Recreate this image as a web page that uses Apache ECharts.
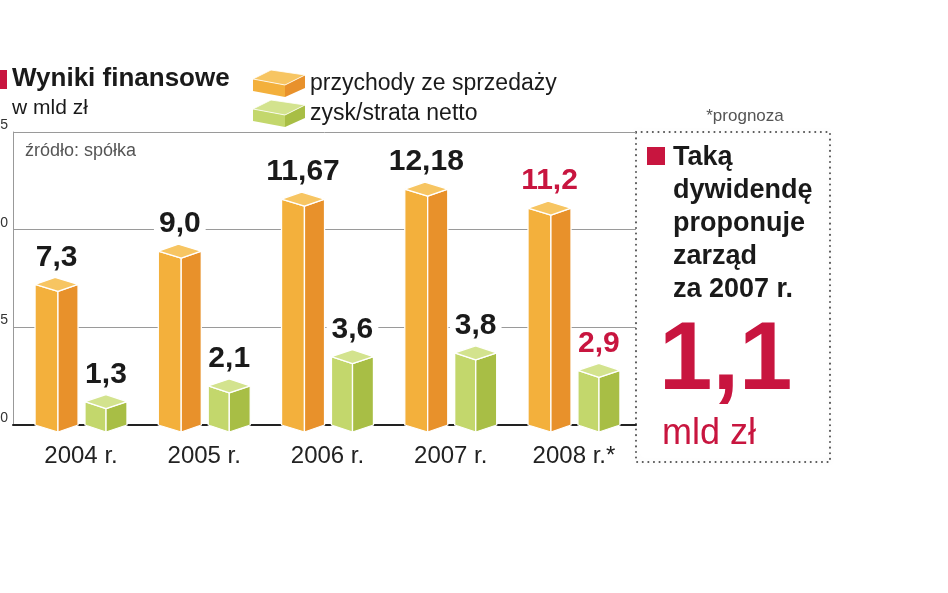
<!DOCTYPE html>
<html>
<head>
<meta charset="utf-8">
<script src="https://cdn.jsdelivr.net/npm/echarts@6/dist/echarts.min.js"></script>
<style>html,body{margin:0;padding:0;background:#fff}#c{width:948px;height:593px}</style>
</head>
<body>
<div id="c"></div>
<script>
// ---- data ----
var categories = ['2004 r.', '2005 r.', '2006 r.', '2007 r.', '2008 r.*'];
var revenue = [7.3, 9.0, 11.67, 12.18, 11.2];
var profit = [1.3, 2.1, 3.6, 3.8, 2.9];
var revenueLabels = ['7,3', '9,0', '11,67', '12,18', '11,2'];
var profitLabels = ['1,3', '2,1', '3,6', '3,8', '2,9'];
var forecastIndex = 4;
var yMin = 0, yMax = 15, yInterval = 5;
var seriesNames = ['przychody ze sprzedaży', 'zysk/strata netto'];

var RED = '#C8153F';
var FONT = '"Liberation Sans", Arial, sans-serif';
var orange = { left: '#F3B03C', right: '#E8912B', top: '#F7C562' };
var green = { left: '#C3D76C', right: '#A8BE45', top: '#D3E38E' };

function cubeIcon(col) {
  var svg = '<svg xmlns="http://www.w3.org/2000/svg" width="52" height="27" viewBox="0 0 52 27">' +
    '<polygon points="0,9 32,15 32,27 0,21" fill="' + col.left + '"/>' +
    '<polygon points="32,15 52,5 52,18 32,27" fill="' + col.right + '"/>' +
    '<polygon points="0,9 18,0 52,5 32,15" fill="' + col.top + '" stroke="#fff" stroke-width="0.8"/>' +
    '</svg>';
  return 'image://data:image/svg+xml;charset=utf-8,' + encodeURIComponent(svg);
}

function makeRender(fr, col, labels) {
  return function (params, api) {
    var idx = params.dataIndex;
    var val = api.value(1);
    var p = api.coord([api.value(0), val]);
    var b = api.coord([api.value(0), 0]);
    var bw = api.size([1, 0])[0];
    var cx = p[0];
    var x0 = cx + fr[0] * bw, xm = cx + fr[1] * bw, x1 = cx + fr[2] * bw;
    var xt = x0 + (x1 - xm);
    var d = 7;
    var yc = p[1] + 2;
    var base = b[1];
    var st = { stroke: '#fff', lineWidth: 1.3, lineJoin: 'round' };
    return {
      type: 'group',
      children: [
        { type: 'polygon', shape: { points: [[x0, yc], [xm, yc + d], [xm, base + d], [x0, base]] },
          style: Object.assign({ fill: col.left }, st) },
        { type: 'polygon', shape: { points: [[xm, yc + d], [x1, yc], [x1, base], [xm, base + d]] },
          style: Object.assign({ fill: col.right }, st) },
        { type: 'polygon', shape: { points: [[x0, yc], [xt, yc - d], [x1, yc], [xm, yc + d]] },
          style: Object.assign({ fill: col.top }, st) },
        { type: 'text', z2: 50,
          style: { text: labels[idx], x: (x0 + x1) / 2, y: yc - d - 20, align: 'center', verticalAlign: 'middle',
            fontSize: 30, fontWeight: 'bold', fontFamily: FONT,
            fill: idx === forecastIndex ? RED : '#1a1a1a', backgroundColor: '#fff', padding: [0, 5] } }
      ]
    };
  };
}

var chart = echarts.init(document.getElementById('c'), null, { renderer: 'canvas' });
chart.setOption({
  backgroundColor: '#fff',
  animation: false,
  title: {
    text: 'Wyniki finansowe', subtext: 'w mld zł', left: 12, top: 65, itemGap: 5, padding: 0,
    textStyle: { fontFamily: FONT, fontWeight: 'bold', fontSize: 26, color: '#1a1a1a', lineHeight: 28 },
    subtextStyle: { fontFamily: FONT, fontSize: 21, color: '#1a1a1a', lineHeight: 21 }
  },
  legend: {
    orient: 'vertical', left: 253, top: 70, itemWidth: 52, itemHeight: 27, itemGap: 3, padding: 0,
    selectedMode: false,
    textStyle: { fontFamily: FONT, fontSize: 23, color: '#1a1a1a' },
    data: [
      { name: seriesNames[0], icon: cubeIcon(orange) },
      { name: seriesNames[1], icon: cubeIcon(green) }
    ]
  },
  grid: [
    { left: 13, right: 312, top: 132, bottom: 168, outerBoundsMode: 'none', containLabel: false },
    { left: 19.4, right: 312.4, top: 132, bottom: 168, outerBoundsMode: 'none', containLabel: false }
  ],
  xAxis: [
    { gridIndex: 0, type: 'category', data: categories,
      axisLine: { show: true, lineStyle: { color: '#222', width: 2 } },
      axisTick: { show: false }, axisLabel: { show: false }, splitLine: { show: false } },
    { gridIndex: 1, type: 'category', data: categories,
      axisLine: { show: false }, axisTick: { show: false },
      axisLabel: { fontFamily: FONT, fontSize: 24, color: '#222', margin: 19 } }
  ],
  yAxis: [
    { gridIndex: 0, type: 'value', min: yMin, max: yMax, interval: yInterval,
      axisLine: { show: true, lineStyle: { color: '#999', width: 1 } }, axisTick: { show: false },
      splitLine: { show: true, lineStyle: { color: '#9a9a9a', width: 1 } },
      axisLabel: { fontFamily: FONT, fontSize: 14, color: '#333', margin: 5, align: 'right', verticalAlign: 'bottom', showMaxLabel: true } },
    { gridIndex: 1, type: 'value', min: yMin, max: yMax, interval: yInterval, show: false }
  ],
  series: [
    { name: seriesNames[0], type: 'custom', xAxisIndex: 1, yAxisIndex: 1, clip: false,
      itemStyle: { color: orange.left },
      renderItem: makeRender([-0.373, -0.187, -0.024], orange, revenueLabels),
      encode: { x: 0, y: 1 },
      data: revenue.map(function (v, i) { return [i, v]; }) },
    { name: seriesNames[1], type: 'custom', xAxisIndex: 1, yAxisIndex: 1, clip: false,
      itemStyle: { color: green.left },
      renderItem: makeRender([0.032, 0.203, 0.373], green, profitLabels),
      encode: { x: 0, y: 1 },
      data: profit.map(function (v, i) { return [i, v]; }) }
  ],
  graphic: [
    { type: 'rect', left: -12, top: 70, shape: { width: 19, height: 19 }, style: { fill: RED } },
    { type: 'text', left: 25, top: 142, style: { text: 'źródło: spółka', fontFamily: FONT, fontSize: 18, fill: '#555' } },
    { type: 'text', x: 745, y: 116, style: { text: '*prognoza', align: 'center', verticalAlign: 'middle', fontFamily: FONT, fontSize: 17, fill: '#555' } },
    { type: 'rect', shape: { x: 636, y: 132, width: 194, height: 330 },
      style: { fill: 'rgba(255,255,255,0)', stroke: '#555', lineWidth: 2, lineDash: [0.1, 5.5], lineCap: 'round',
        shadowBlur: 6, shadowColor: 'rgba(0,0,0,0.12)' } },
    { type: 'rect', shape: { x: 647, y: 147, width: 18, height: 18 }, style: { fill: RED } },
    { type: 'text', x: 673, y: 141, style: { text: 'Taką\ndywidendę\nproponuje\nzarząd\nza 2007 r.', lineHeight: 33,
        fontFamily: FONT, fontWeight: 'bold', fontSize: 27, fill: '#1a1a1a', verticalAlign: 'top' } },
    { type: 'text', x: 659, y: 363, style: { text: '1,1', verticalAlign: 'middle', fontFamily: FONT, fontWeight: 'bold', fontSize: 96, fill: RED } },
    { type: 'text', x: 662, y: 434, style: { text: 'mld zł', verticalAlign: 'middle', fontFamily: FONT, fontSize: 36, fill: RED } }
  ]
});
</script>
</body>
</html>
